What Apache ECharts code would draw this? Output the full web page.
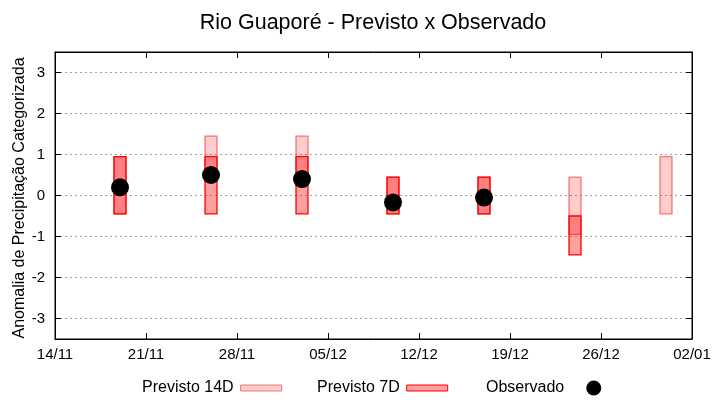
<!DOCTYPE html>
<html>
<head>
<meta charset="utf-8">
<script src="https://cdn.jsdelivr.net/npm/echarts@6/dist/echarts.min.js"></script>
<style>html,body{margin:0;padding:0;background:#fff}#c{width:720px;height:400px}</style>
</head>
<body>
<div id="c"></div>
<script>
// ---- data ----
const startDate = '2023-11-14';
const yAxisTitle = 'Anomalia de Precipitação Categorizada';
const tickLabels = ['14/11','21/11','28/11','05/12','12/12','19/12','26/12','02/01'];
const yTicks = [-3, -2, -1, 0, 1, 2, 3];
const dates = ['2023-11-19','2023-11-26','2023-12-03','2023-12-10','2023-12-17','2023-12-24','2023-12-31'];
const prev14Low  = [-0.45, 0.45, 0.45, -0.45, -0.45, -0.95, -0.45];
const prev14High = [ 0.95, 1.45, 1.45,  0.45,  0.45,  0.45,  0.95];
const prev7Low   = [-0.45, -0.45, -0.45, -0.45, -0.45, -1.45, null];
const prev7High  = [ 0.95,  0.95,  0.95,  0.45,  0.45, -0.50, null];
const observed   = [ 0.20,  0.50,  0.40, -0.17, -0.05, null, null];

const DAY = 86400000;
const t0 = Date.parse(startDate);
const dayOf = d => Math.round((Date.parse(d) - t0) / DAY);
const xs = dates.map(dayOf);

const d14 = xs.map((x, i) => [x, prev14Low[i], prev14High[i]]).filter(r => r[1] != null);
const d7 = xs.map((x, i) => [x, prev7Low[i], prev7High[i]]).filter(r => r[1] != null);
const dObs = xs.map((x, i) => [x, observed[i]]).filter(r => r[1] != null);

const c14 = {fill: 'rgba(255,0,0,0.2)', border: 'rgba(240,100,100,0.85)'};
const c7 = {fill: 'rgba(255,0,0,0.373)', border: '#ff0000'};

function boxRender(style) {
  return function (params, api) {
    const x = api.value(0);
    const lo = api.coord([x, api.value(1)]);
    const hi = api.coord([x, api.value(2)]);
    const w = api.size([0.92, 0])[0];
    return {
      type: 'rect',
      shape: {x: lo[0] - w / 2, y: hi[1], width: w, height: lo[1] - hi[1]},
      style: {fill: style.fill, stroke: style.border, lineWidth: 1.3}
    };
  };
}

const font = 'Liberation Sans, Arial, sans-serif';
const chart = echarts.init(document.getElementById('c'), null, {renderer: 'canvas'});
chart.setOption({
  animation: false,
  backgroundColor: '#fff',
  title: {
    text: 'Rio Guaporé - Previsto x Observado',
    left: 368, top: 7, textAlign: 'center',
    textStyle: {fontFamily: font, fontSize: 21.5, fontWeight: 'normal', color: '#000'}
  },
  graphic: [{
    type: 'text', x: 20, y: 198, rotation: Math.PI / 2,
    style: {text: yAxisTitle, fill: '#000', font: '16px ' + font, align: 'center', verticalAlign: 'middle'}
  }],
  grid: {left: 55, right: 28, top: 52, bottom: 61, show: true, borderColor: '#000', borderWidth: 1,
         outerBoundsMode: 'none', containLabel: false},
  xAxis: [{
    type: 'value', min: 0, max: 49, interval: 7,
    axisLine: {show: true, onZero: false, lineStyle: {color: '#000'}},
    axisTick: {show: true, inside: true, length: 6, lineStyle: {color: '#000'}},
    axisLabel: {
      color: '#000', fontFamily: font, fontSize: 15, margin: 8,
      formatter: v => tickLabels[Math.round(v / 7)] || ''
    },
    splitLine: {show: false}
  }, {
    type: 'value', min: 0, max: 49, interval: 7, position: 'top',
    axisLine: {show: true, onZero: false, lineStyle: {color: '#000'}},
    axisTick: {show: true, inside: true, length: 6, lineStyle: {color: '#000'}},
    axisLabel: {show: false}, splitLine: {show: false}
  }],
  yAxis: [{
    type: 'value', min: -3.5, max: 3.5,
    axisLine: {show: true, onZero: false, lineStyle: {color: '#000'}},
    axisTick: {show: true, inside: true, length: 6, customValues: yTicks, lineStyle: {color: '#000'}},
    axisLabel: {
      color: '#000', fontFamily: font, fontSize: 15, margin: 10,
      customValues: yTicks,
      formatter: v => String(v)
    },
    splitLine: {show: true, lineStyle: {color: '#a0a0a0', type: [2, 3], width: 1}}
  }, {
    type: 'value', min: -3.5, max: 3.5, position: 'right',
    axisLine: {show: true, onZero: false, lineStyle: {color: '#000'}},
    axisTick: {show: true, inside: true, length: 6, customValues: yTicks, lineStyle: {color: '#000'}},
    axisLabel: {show: false}, splitLine: {show: false}
  }],
  legend: [{
    left: 137, top: 375, align: 'right', itemWidth: 41, itemHeight: 6, itemGap: 7,
    textStyle: {fontFamily: font, fontSize: 16, color: '#000', padding: [0, 2, 0, 0]},
    data: [{name: 'Previsto 14D', icon: 'rect', itemStyle: {color: c14.fill, borderColor: c14.border, borderWidth: 1}}]
  }, {
    left: 312, top: 375, align: 'right', itemWidth: 41, itemHeight: 6,
    textStyle: {fontFamily: font, fontSize: 16, color: '#000', padding: [0, 2, 0, 0]},
    data: [{name: 'Previsto 7D', icon: 'rect', itemStyle: {color: c7.fill, borderColor: c7.border, borderWidth: 1}}]
  }, {
    left: 481, top: 375, align: 'right', itemWidth: 15, itemHeight: 15,
    textStyle: {fontFamily: font, fontSize: 16, color: '#000', padding: [0, 17, 0, 0]},
    data: [{name: 'Observado', icon: 'circle', itemStyle: {color: '#000', opacity: 1}}]
  }],
  series: [{
    name: 'Previsto 14D', type: 'custom', renderItem: boxRender(c14),
    encode: {x: 0, y: [1, 2]}, data: d14, z: 2,
    itemStyle: {color: c14.fill, borderColor: c14.border}
  }, {
    name: 'Previsto 7D', type: 'custom', renderItem: boxRender(c7),
    encode: {x: 0, y: [1, 2]}, data: d7, z: 3,
    itemStyle: {color: c7.fill, borderColor: c7.border}
  }, {
    name: 'Observado', type: 'scatter', data: dObs, symbol: 'circle', symbolSize: 18, z: 5,
    itemStyle: {color: '#000', opacity: 1}
  }]
});
</script>
</body>
</html>
